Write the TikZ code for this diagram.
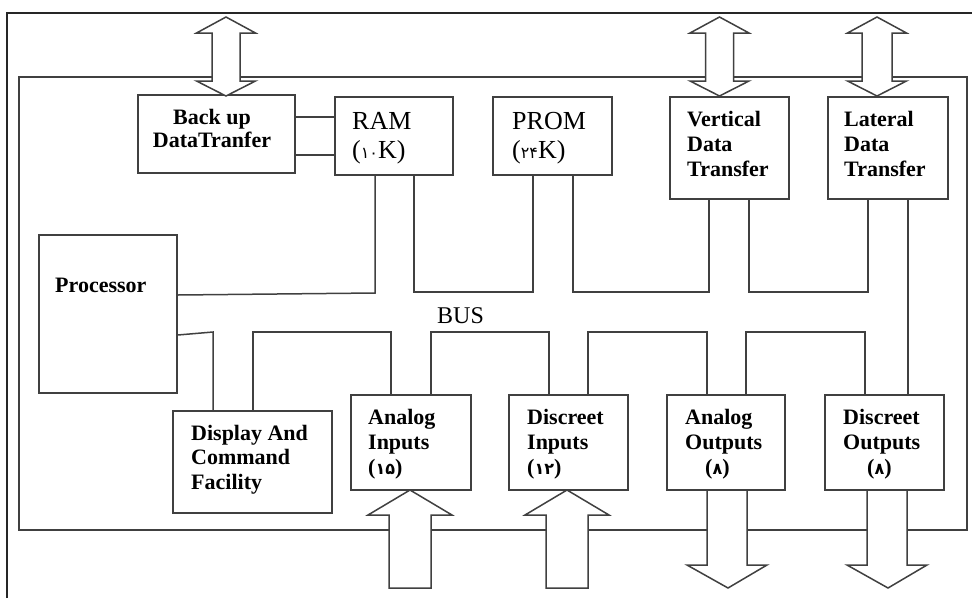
\documentclass[tikz,border=0pt]{standalone}
\usepackage{fontspec}
\setmainfont{Liberation Serif}
\newfontfamily\fadig{DejaVu Sans}
\newcommand\fanum[1]{{\fadig\fontsize{16}{16}\selectfont #1}}
\begin{document}
\begin{tikzpicture}[x=1pt,y=-1pt,
  ln/.style={line width=1.5pt, draw=black!75},
  box/.style={ln, rectangle, inner sep=0pt},
  lbl/.style={inner sep=0pt, font=\fontsize{22}{25}\selectfont\bfseries, align=left, anchor=north west, text=black},
  big/.style={ln, fill=white, line join=miter},
  wire/.style={ln}
]
\useasboundingbox (0,0) rectangle (972,598);

% outer frame (top and left) and inner frame
\draw[line width=1.2pt, draw=black!85] (7,598) -- (7,13) -- (972,13);
\draw[ln] (19,77) rectangle (967,530);

% boxes
\node[box, minimum width=157pt, minimum height=78pt] (backup) at (216.5,134) {};
\node[box, minimum width=118pt, minimum height=78pt] (ram) at (394,136) {};
\node[box, minimum width=119pt, minimum height=78pt] (prom) at (552.5,136) {};
\node[box, minimum width=119pt, minimum height=102pt] (vdt) at (729.5,148) {};
\node[box, minimum width=120pt, minimum height=102pt] (ldt) at (888,148) {};
\node[box, minimum width=138pt, minimum height=158pt] (proc) at (108,314) {};
\node[box, minimum width=159pt, minimum height=102pt] (disp) at (252.5,462) {};
\node[box, minimum width=120pt, minimum height=95pt] (ain) at (411,442.5) {};
\node[box, minimum width=119pt, minimum height=95pt] (din) at (568.5,442.5) {};
\node[box, minimum width=118pt, minimum height=95pt] (aout) at (726,442.5) {};
\node[box, minimum width=119pt, minimum height=95pt] (dout) at (884.5,442.5) {};

% backup <-> RAM
\draw[wire] (backup.east |- 0,117) -- (ram.west |- 0,117);
\draw[wire] (backup.east |- 0,155) -- (ram.west |- 0,155);

% upper bus
\draw[wire] (ram.south -| 375,0) -- (375,293) -- (proc.east |- 0,295);
\draw[wire] (ram.south -| 414,0) -- (414,292) -- (533,292) -- (prom.south -| 533,0);
\draw[wire] (prom.south -| 573,0) -- (573,292) -- (709,292) -- (vdt.south -| 709,0);
\draw[wire] (vdt.south -| 749,0) -- (749,292) -- (868,292) -- (ldt.south -| 868,0);
\draw[wire] (ldt.south -| 908,0) -- (dout.north -| 908,0);

% lower bus
\draw[wire] (proc.east |- 0,335) -- (213,332) -- (disp.north -| 213,0);
\draw[wire] (disp.north -| 253,0) -- (253,332) -- (391,332) -- (ain.north -| 391,0);
\draw[wire] (ain.north -| 431,0) -- (431,332) -- (549,332) -- (din.north -| 549,0);
\draw[wire] (din.north -| 588,0) -- (588,332) -- (707,332) -- (aout.north -| 707,0);
\draw[wire] (aout.north -| 746,0) -- (746,332) -- (865,332) -- (dout.north -| 865,0);

% top double arrows
\foreach \cx/\sw in {226/14, 719.5/14, 877/15}{
  \draw[big] (\cx,17) -- ++(29.5,16) -- ++(-29.5+\sw,0) -- ++(0,48) -- ++(29.5-\sw,0)
    -- (\cx,96) -- ++(-29.5,-15) -- ++(29.5-\sw,0) -- ++(0,-48) -- ++(-29.5+\sw,0) -- cycle;
}
% input arrows (up)
\foreach \cx in {410, 567}{
  \draw[big] (\cx,490) -- (\cx+42,515) -- (\cx+21,515) -- (\cx+21,588) -- (\cx-21,588)
    -- (\cx-21,515) -- (\cx-42,515) -- cycle;
}
% output arrows (down)
\foreach \cx in {727, 887}{
  \draw[big] (\cx-20,490) -- (\cx+20,490) -- (\cx+20,565) -- (\cx+40,565) -- (\cx+1,588)
    -- (\cx-40,565) -- (\cx-20,565) -- cycle;
}

% texts
\node[lbl, font=\fontsize{22}{23}\selectfont\bfseries, align=center, anchor=north] (tbackup) at (212,109) {Back up\\DataTranfer};
\node[lbl, font=\fontsize{26}{29}\selectfont] (tram) at (352,112) {RAM\\(\fanum{۱۰}K)};
\node[lbl, font=\fontsize{26}{29}\selectfont] (tprom) at (512,112) {PROM\\(\fanum{۲۴}K)};
\node[lbl] (tvdt) at (687,111) {Vertical\\Data\\Transfer};
\node[lbl] (tldt) at (844,111) {Lateral\\Data\\Transfer};
\node[lbl] (tproc) at (55,278) {Processor};
\node[lbl, font=\fontsize{22}{24.5}\selectfont\bfseries] (tdisp) at (191,425) {Display And\\Command\\Facility};
\node[lbl] (tain) at (368,409) {Analog\\Inputs\\(\fanum{۱۵})};
\node[lbl] (tdin) at (527,409) {Discreet\\Inputs\\(\fanum{۱۲})};
\node[lbl] (taout) at (685,409) {Analog\\Outputs\\\hspace*{20pt}(\fanum{۸})};
\node[lbl] (tdout) at (843,409) {Discreet\\Outputs\\\hspace*{24pt}(\fanum{۸})};
\node[lbl, font=\fontsize{24}{28}\selectfont] (tbus) at (437,307) {BUS};
\end{tikzpicture}
\end{document}
